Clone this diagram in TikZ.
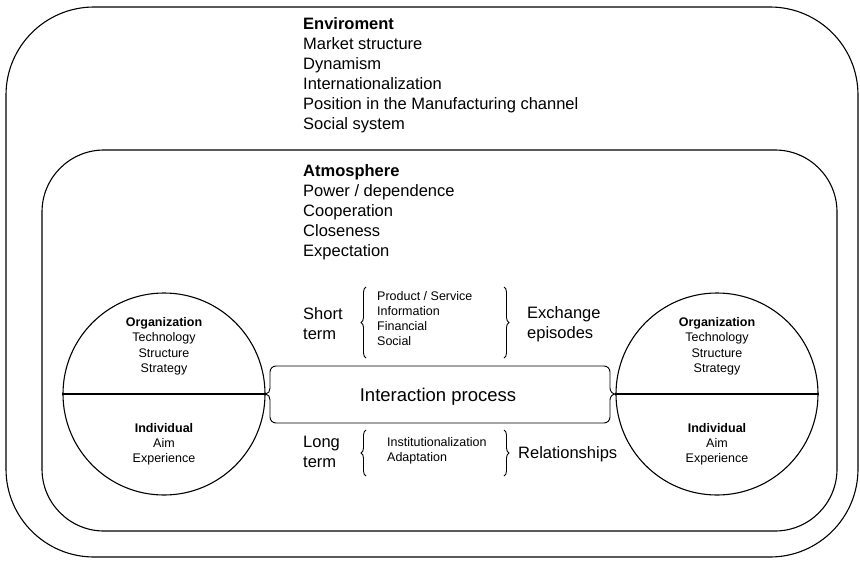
\documentclass[tikz,border=0pt]{standalone}
\usepackage{fontspec}
\setmainfont{Liberation Sans}
\usetikzlibrary{decorations.pathreplacing}
\begin{document}
\begin{tikzpicture}[x=1pt,y=-1pt,
  frame/.style={draw=black,line width=1.1pt},
  thin/.style={draw=black,line width=0.9pt},
  big/.style={font=\fontsize{16.5}{20}\selectfont, inner sep=0pt, anchor=base west},
  bigb/.style={big, font=\fontsize{16.5}{20}\selectfont\bfseries},
  small/.style={font=\fontsize{12.5}{15}\selectfont, inner sep=0pt, anchor=base west},
  ctext/.style={font=\fontsize{12.5}{15}\selectfont, inner sep=0pt, anchor=base},
  ctextb/.style={ctext, font=\fontsize{12.5}{15}\selectfont\bfseries},
  circ/.style={frame, circle, minimum size=202pt, inner sep=0pt},
  brc/.style={thin, decorate, decoration={brace, amplitude=5pt}}
]
\useasboundingbox (0,0) rectangle (860,560);

% outer frames
\draw[frame, rounded corners=88pt] (6,7) rectangle (858,557);
\draw[frame, rounded corners=62pt] (42,150) rectangle (837,531);

% Environment text
\node[bigb] (e0) at (303,29) {Enviroment};
\node[big] (e1) at (303,49) {Market structure};
\node[big] (e2) at (303,69) {Dynamism};
\node[big] (e3) at (303,89) {Internationalization};
\node[big] (e4) at (303,109) {Position in the Manufacturing channel};
\node[big] (e5) at (303,129) {Social system};

% Atmosphere text
\node[bigb] (a0) at (303,176) {Atmosphere};
\node[big] (a1) at (303,196) {Power / dependence};
\node[big] (a2) at (303,216) {Cooperation};
\node[big] (a3) at (303,236) {Closeness};
\node[big] (a4) at (303,256) {Expectation};

% circles
\node[circ] (L) at (164,394) {};
\node[circ] (R) at (717,394) {};
\draw[frame] (L.west) -- (L.east);
\draw[frame] (R.west) -- (R.east);

\foreach \cx/\nm in {164/l, 717/r}{
  \node[ctextb] (\nm o) at (\cx,326.5) {Organization};
  \node[ctext] (\nm t) at (\cx,341.5) {Technology};
  \node[ctext] (\nm s) at (\cx,357) {Structure};
  \node[ctext] (\nm g) at (\cx,372.5) {Strategy};
  \node[ctextb] (\nm i) at (\cx,432.5) {Individual};
  \node[ctext] (\nm a) at (\cx,447.5) {Aim};
  \node[ctext] (\nm x) at (\cx,462.5) {Experience};
}

% interaction process box
\node[inner sep=0pt, anchor=base, font=\fontsize{18.5}{22}\selectfont] (ip) at (438,401.5) {Interaction process};
\draw[thin] (L.east) to[out=0,in=-90] (270,388) -- (270,372) to[out=90,in=180] (276,366)
  -- (604,366) to[out=0,in=90] (610,372) -- (610,388) to[out=-90,in=180] (R.west)
  to[out=180,in=90] (610,400) -- (610,417) to[out=-90,in=0] (604,423)
  -- (276,423) to[out=180,in=-90] (270,417) -- (270,400) to[out=90,in=0] (L.east);

% short term
\node[big] (st1) at (303,319) {Short};
\node[big] (st2) at (303,339) {term};
\coordinate (sb1) at (366,358); \coordinate (sb2) at (366,287);
\draw[brc] (sb1) -- (sb2);
\node[small] (p1) at (377,300.5) {Product / Service};
\node[small] (p2) at (377,315) {Information};
\node[small] (p3) at (377,330) {Financial};
\node[small] (p4) at (377,345) {Social};
\coordinate (sb3) at (504,287); \coordinate (sb4) at (504,358);
\draw[brc] (sb3) -- (sb4);
\node[big] (ex1) at (527,318) {Exchange};
\node[big] (ex2) at (527,338) {episodes};

% long term
\node[big] (lt1) at (303,447) {Long};
\node[big] (lt2) at (303,467) {term};
\coordinate (lb1) at (366,476); \coordinate (lb2) at (366,430);
\draw[brc] (lb1) -- (lb2);
\node[small] (q1) at (387,446.5) {Institutionalization};
\node[small] (q2) at (387,461.5) {Adaptation};
\coordinate (lb3) at (504,430); \coordinate (lb4) at (504,476);
\draw[brc] (lb3) -- (lb4);
\node[big] (rel) at (518,458) {Relationships};
\end{tikzpicture}
\end{document}
